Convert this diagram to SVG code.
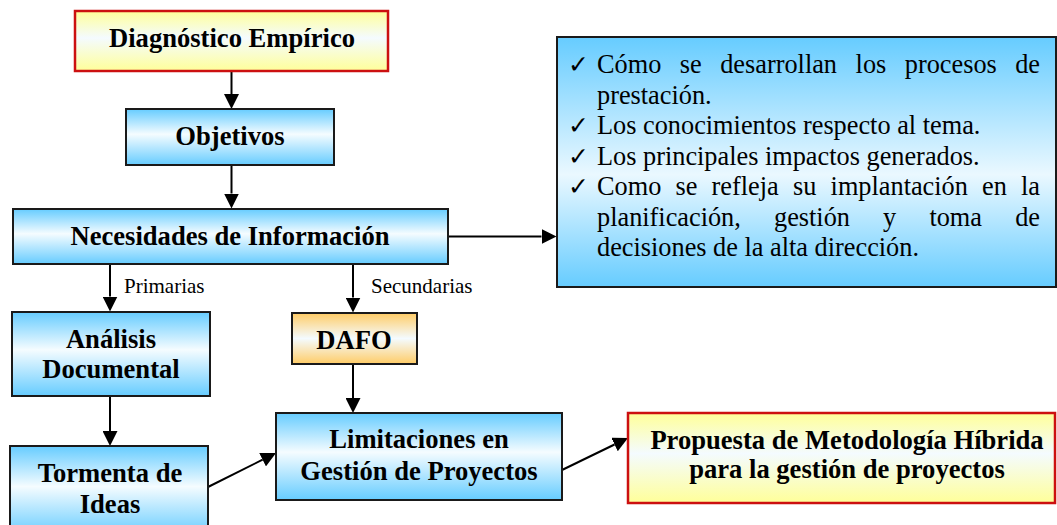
<svg xmlns="http://www.w3.org/2000/svg" width="1057" height="525" viewBox="0 0 1057 525">
<defs>
<linearGradient id="gBlue" x1="0" y1="0" x2="0" y2="1">
<stop offset="0" stop-color="#66ccff"/><stop offset="0.45" stop-color="#f5fcff"/><stop offset="1" stop-color="#66ccff"/>
</linearGradient>
<linearGradient id="gBig" x1="0" y1="0" x2="0" y2="1">
<stop offset="0" stop-color="#66ccff"/><stop offset="0.55" stop-color="#eaf8ff"/><stop offset="1" stop-color="#66ccff"/>
</linearGradient>
<linearGradient id="gYellow" x1="0" y1="0" x2="0" y2="1">
<stop offset="0" stop-color="#ffff99"/><stop offset="0.45" stop-color="#f4fbff"/><stop offset="1" stop-color="#ffff99"/>
</linearGradient>
<linearGradient id="gOrange" x1="0" y1="0" x2="0" y2="1">
<stop offset="0" stop-color="#ffcc66"/><stop offset="0.5" stop-color="#f4fbff"/><stop offset="1" stop-color="#ffcc66"/>
</linearGradient>
<marker id="arr" markerUnits="userSpaceOnUse" markerWidth="15" markerHeight="15" viewBox="0 0 15 15" refX="0" refY="7.5" orient="auto">
<path d="M0,0 L15,7.5 L0,15 z" fill="#000"/>
</marker>
<style>
.blue{fill:url(#gBlue);stroke:#1a1a1a;stroke-width:2}
.yellow{fill:url(#gYellow);stroke:#cc1010;stroke-width:2.5}
.orange{fill:url(#gOrange);stroke:#1a1a1a;stroke-width:2}
.big{fill:url(#gBig);stroke:#1a1a1a;stroke-width:2}
.b{font-family:"Liberation Serif","Times New Roman",serif;font-weight:bold;font-size:26.6px;fill:#000;text-anchor:middle}
.r{font-family:"Liberation Serif","Times New Roman",serif;font-size:26.3px;fill:#000}
.lab{font-family:"Liberation Serif","Times New Roman",serif;font-size:21px;fill:#000}
.chk{font-family:"DejaVu Sans",sans-serif;font-size:25px;fill:#000}
.c{stroke:#000;stroke-width:2;fill:none;marker-end:url(#arr)}
</style>
</defs>
<g id="connectors">
<line class="c" x1="231.5" y1="71" x2="231.5" y2="94"/>
<line class="c" x1="231.5" y1="165" x2="231.5" y2="193.5"/>
<line class="c" x1="110" y1="264" x2="110" y2="296.5"/>
<line class="c" x1="353" y1="264" x2="353" y2="297.5"/>
<line class="c" x1="448" y1="236.5" x2="541.5" y2="236.5"/>
<line class="c" x1="110" y1="396" x2="110" y2="431"/>
<line class="c" x1="353" y1="364" x2="353" y2="398"/>
<line class="c" x1="208" y1="487" x2="262.6" y2="459.7"/>
<line class="c" x1="562" y1="470" x2="614.5" y2="444.5"/>
<text class="lab" x="124" y="293">Primarias</text>
<text class="lab" x="371" y="293">Secundarias</text>
</g>
<g id="diagnostico">
<rect class="yellow" x="75" y="11" width="313" height="60"/>
<text class="b" x="232" y="47">Diagnóstico Empírico</text>
</g>
<g id="objetivos">
<rect class="blue" x="126" y="109" width="208" height="56"/>
<text class="b" x="230" y="145">Objetivos</text>
</g>
<g id="necesidades">
<rect class="blue" x="13" y="209" width="435" height="55"/>
<text class="b" x="230" y="245">Necesidades de Información</text>
</g>
<g id="lista">
<rect class="big" x="557" y="37" width="499" height="250"/>
<text class="chk" x="568" y="73">✓</text>
<text class="chk" x="568" y="134">✓</text>
<text class="chk" x="568" y="164.5">✓</text>
<text class="chk" x="568" y="195">✓</text>
<text class="r" y="73"><tspan x="597">Cómo</tspan><tspan x="679.8">se</tspan><tspan x="720.2">desarrollan</tspan><tspan x="855.6">los</tspan><tspan x="904.8">procesos</tspan></text>
<text class="r" x="1040" y="73" text-anchor="end">de</text>
<text class="r" x="597" y="103.5">prestación.</text>
<text class="r" x="597" y="134">Los conocimientos respecto al tema.</text>
<text class="r" x="597" y="164.5">Los principales impactos generados.</text>
<text class="r" y="195"><tspan x="597">Como</tspan><tspan x="675.5">se</tspan><tspan x="711.6">refleja</tspan><tspan x="793">su</tspan><tspan x="830.6">implantación</tspan><tspan x="982.1">en</tspan></text>
<text class="r" x="1040" y="195" text-anchor="end">la</text>
<text class="r" y="225.5"><tspan x="597">planificación,</tspan><tspan x="774">gestión</tspan><tspan x="883.1">y</tspan><tspan x="929.4">toma</tspan></text>
<text class="r" x="1040" y="225.5" text-anchor="end">de</text>
<text class="r" x="597" y="256">decisiones de la alta dirección.</text>
</g>
<g id="analisis">
<rect class="blue" x="12" y="312" width="198" height="84"/>
<text class="b" x="111" y="347.7">Análisis</text>
<text class="b" x="111" y="378">Documental</text>
</g>
<g id="dafo">
<rect class="orange" x="292" y="313" width="125" height="51"/>
<text class="b" x="354" y="349">DAFO</text>
</g>
<g id="tormenta">
<rect class="blue" x="10" y="446" width="198" height="90"/>
<text class="b" x="110" y="481.7">Tormenta de</text>
<text class="b" x="110" y="513.3">Ideas</text>
</g>
<g id="limitaciones">
<rect class="blue" x="276" y="413" width="286" height="87"/>
<text class="b" x="419" y="448">Limitaciones en</text>
<text class="b" x="419" y="480">Gestión de Proyectos</text>
</g>
<g id="propuesta">
<rect class="yellow" x="628" y="413" width="427" height="90"/>
<text class="b" x="847" y="449.3">Propuesta de Metodología Híbrida</text>
<text class="b" x="847" y="478.3">para la gestión de proyectos</text>
</g>
</svg>
